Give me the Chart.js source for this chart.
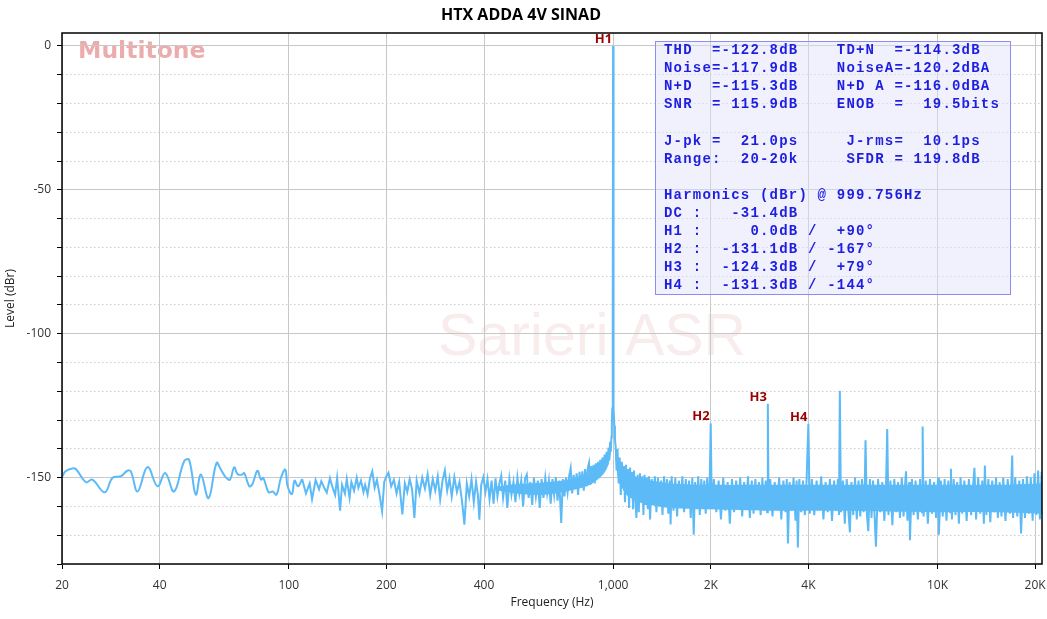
<!DOCTYPE html>
<html>
<head>
<meta charset="utf-8">
<script src="https://cdn.jsdelivr.net/npm/chart.js@4.4.1/dist/chart.umd.min.js"></script>
<style>
  html, body { margin: 0; padding: 0; background: #fff; }
  #wrap { width: 1047px; height: 619px; }
</style>
</head>
<body>
<div id="wrap"><canvas id="spectrum" width="1047" height="619"></canvas></div>
<script>
// axis ticks
const xTickValues = [20, 40, 100, 200, 400, 1000, 2000, 4000, 10000, 20000];
const xTickLabels = ['20', '40', '100', '200', '400', '1,000', '2K', '4K', '10K', '20K'];
const yTickValues = [-180, -170, -160, -150, -140, -130, -120, -110, -100, -90, -80, -70, -60, -50, -40, -30, -20, -10, 0];

// spectrum, [Hz, dBr]
const lowBand = [
  [20, -149.8], [20.5, -147.8], [21.5, -146.8], [22.1, -147.1], [23.7, -151.6], [24.8, -150.7],
  [27.1, -155.1], [28.6, -150.1], [30.4, -149.5], [31.8, -147.6], [32.6, -147.8], [34.2, -154.8],
  [36.7, -146.3], [39.4, -153.0], [41.6, -148.4], [44.3, -154.8], [47.6, -144.3], [49.3, -143.8],
  [51.7, -155.9], [53.6, -148.9], [56.6, -157.1], [59.9, -144.9], [61.8, -147.2], [64.0, -149.9],
  [65.9, -150.7], [67.9, -146.4], [69.5, -148.7], [71.7, -149.0], [72.9, -148.4], [75.6, -153.0],
  [77.3, -152.2], [80.1, -147.6], [82.1, -150.7], [83.5, -150.1], [86.7, -155.1], [89.2, -154.8],
  [91.7, -155.9], [94.6, -150.1], [97.6, -147.2], [99.2, -153.0], [102.3, -155.7], [104.2, -151.0],
  [106.8, -153.0]
];

const midBand = [
  [110, -150.5], [113, -155.5], [116, -152.0], [118, -157.5], [121, -150.8], [124, -154.0],
  [126, -151.2], [129, -153.8], [131, -155.2], [134, -150.2], [136, -152.8], [139, -156.0],
  [141, -150.0], [144, -161.5], [146, -152.5], [149, -155.5], [151, -150.5], [154, -157.0],
  [156, -151.5], [159, -154.5], [162, -150.0], [164, -153.5], [167, -151.0], [170, -155.0],
  [172, -152.5], [175, -155.8], [178, -150.2], [181, -147.8], [184, -153.5], [187, -150.8],
  [190, -155.0], [194, -161.7], [197, -151.5], [200, -149.5], [203, -148.3], [207, -153.0],
  [211, -150.8], [215, -155.5], [219, -151.5], [224, -162.8], [228, -152.0], [232, -155.0],
  [236, -150.5], [240, -154.0], [244, -164.0], [248, -151.0], [253, -155.5], [258, -150.0],
  [263, -153.8], [268, -148.8], [273, -156.0], [278, -150.5], [283, -154.5], [288, -149.5],
  [293, -157.5], [298, -151.0], [303, -147.5], [308, -154.5], [313, -150.2], [318, -156.5],
  [324, -149.8], [330, -155.0], [336, -151.5], [342, -158.0], [348, -166.3], [354, -152.0],
  [360, -156.5], [366, -150.5], [372, -158.5], [378, -151.5], [383, -156.0], [387, -164.6],
  [392, -152.5], [398, -149.8], [404, -155.0], [410, -150.5], [416, -157.5], [422, -151.0],
  [428, -159.0], [434, -150.2], [440, -156.5], [446, -152.0], [452, -149.3], [458, -157.0],
  [465, -151.0], [472, -160.5], [479, -150.5], [486, -156.0], [493, -151.5], [500, -158.5],
  [507, -150.0], [514, -155.5], [521, -151.0], [528, -160.0], [535, -150.5], [542, -149.0],
  [549, -157.0], [556, -151.5], [563, -159.5], [570, -150.0], [578, -156.5], [586, -151.0],
  [594, -160.5], [602, -150.5], [610, -157.0], [618, -150.0], [626, -155.5], [634, -151.0],
  [642, -159.0], [650, -150.5], [658, -156.0], [666, -149.8], [674, -158.0], [682, -151.0],
  [692, -165.7], [700, -150.5]
];

const carrierBand = [
  [708, -156.5], [716, -150.0], [724, -155.0], [732, -149.5], [740, -146.7], [748, -155.5],
  [756, -149.0], [764, -154.0], [772, -148.5], [780, -156.0], [788, -148.0], [796, -153.5],
  [804, -147.8], [812, -154.5], [820, -147.0], [828, -153.0], [836, -146.5], [843, -144.8],
  [850, -152.5], [857, -146.0], [864, -151.5], [871, -145.5], [878, -152.0], [885, -145.0],
  [892, -150.5], [899, -144.5], [906, -150.0], [913, -143.8], [920, -149.0], [927, -143.0],
  [934, -148.0], [941, -142.0], [948, -147.0], [955, -141.0], [962, -145.5], [968, -139.5],
  [974, -144.0], [979, -137.5], [984, -141.0], [988, -136.0], [991, -132.0], [994, -126.0],
  [996.5, -118.0], [998.5, -95.0], [999.756, 0.0], [1001, -95.0], [1003, -118.0], [1005.5, -126.0],
  [1009, -132.0], [1013, -136.5], [1018, -139.0]
];

const highBand = [
  [1025, -147.5], [1032, -140.0], [1040, -152.0], [1048, -143.0], [1056, -156.0], [1064, -144.5],
  [1072, -150.5], [1080, -146.0], [1088, -158.5], [1096, -145.5], [1104, -155.0], [1112, -147.0],
  [1120, -160.5], [1128, -146.5], [1136, -156.5], [1144, -148.0], [1152, -161.0], [1160, -147.5],
  [1170, -157.0], [1180, -164.0], [1190, -149.0], [1200, -162.0], [1210, -148.5], [1220, -158.0],
  [1230, -149.5], [1240, -163.0], [1250, -149.0], [1260, -159.5], [1270, -150.0], [1280, -161.0],
  [1290, -149.5], [1300, -164.5], [1315, -150.5], [1330, -158.5], [1345, -149.5], [1360, -162.0],
  [1375, -150.0], [1390, -159.5], [1405, -151.0], [1420, -163.0], [1435, -149.5], [1450, -160.0],
  [1465, -150.5], [1480, -162.5], [1495, -151.0], [1504, -166.3], [1515, -149.5], [1535, -161.5],
  [1555, -150.0], [1575, -163.5], [1595, -151.0], [1615, -159.0], [1635, -149.5], [1655, -162.0],
  [1675, -150.5], [1695, -160.5], [1715, -151.0], [1735, -164.0], [1755, -150.0], [1772, -169.8],
  [1790, -151.5], [1810, -161.0], [1830, -149.5], [1850, -163.0], [1870, -150.5], [1890, -160.0],
  [1910, -151.0], [1930, -162.5], [1950, -150.0], [1970, -161.0], [1985, -151.5], [1999.5, -131.1],
  [2015, -160.5], [2045, -150.5], [2080, -162.0], [2115, -151.0], [2150, -164.5], [2185, -150.0],
  [2220, -161.5], [2255, -151.5], [2290, -166.0], [2325, -150.5], [2360, -162.0], [2395, -151.0],
  [2430, -160.5], [2465, -150.0], [2500, -163.5], [2535, -151.5], [2570, -161.0], [2605, -149.5],
  [2640, -164.0], [2675, -151.0], [2710, -162.5], [2745, -150.5], [2780, -160.0], [2815, -151.5],
  [2850, -163.0], [2885, -150.0], [2920, -161.5], [2955, -151.0], [2985, -162.0], [2999.3, -124.3],
  [3015, -161.0], [3050, -150.5], [3100, -163.5], [3150, -151.5], [3200, -160.5], [3250, -150.0],
  [3300, -164.5], [3350, -151.0], [3400, -162.0], [3430, -150.5], [3460, -172.9], [3500, -151.5],
  [3550, -161.5], [3600, -150.0], [3650, -165.0], [3680, -151.0], [3712, -174.3], [3750, -150.5],
  [3800, -162.0], [3850, -151.0], [3900, -163.0], [3950, -150.5], [3999, -131.3], [4040, -162.5],
  [4100, -150.5], [4170, -163.0], [4240, -151.0], [4310, -161.0], [4380, -149.5], [4450, -164.5],
  [4520, -151.5], [4590, -162.0], [4660, -150.5], [4730, -165.0], [4800, -151.0], [4870, -161.5],
  [4930, -150.5], [4970, -163.0], [5000, -119.8], [5040, -162.0], [5110, -151.0], [5180, -166.0],
  [5250, -150.5], [5320, -162.5], [5370, -169.0], [5430, -151.5], [5500, -163.0], [5570, -150.0],
  [5640, -164.5], [5710, -151.0], [5780, -163.5], [5850, -150.5], [5920, -162.0], [5970, -151.5],
  [6000, -137.0], [6060, -163.0], [6120, -168.6], [6190, -150.5], [6260, -164.0], [6330, -151.0],
  [6460, -174.0], [6560, -150.5], [6660, -162.0], [6760, -151.5], [6860, -165.0], [6950, -150.0],
  [7000, -133.1], [7060, -163.0], [7160, -151.0], [7260, -166.5], [7360, -150.5], [7460, -162.0],
  [7560, -151.5], [7660, -164.0], [7760, -150.0], [7860, -163.5], [7960, -151.0], [8000, -147.8],
  [8080, -165.0], [8180, -151.5], [8225, -171.7], [8340, -150.5], [8440, -163.0], [8560, -151.0],
  [8700, -164.5], [8840, -150.5], [8960, -162.0], [9000, -132.2], [9060, -163.5], [9200, -151.0],
  [9340, -166.0], [9480, -150.5], [9620, -162.5], [9760, -151.5], [9900, -164.0], [10040, -150.0],
  [10100, -169.8], [10240, -151.0], [10380, -163.5], [10520, -150.5], [10660, -165.0], [10800, -151.0],
  [10940, -162.0], [11000, -146.9], [11080, -164.5], [11220, -150.5], [11360, -163.0], [11500, -151.5],
  [11640, -166.0], [11780, -150.0], [11920, -162.5], [12100, -151.0], [12300, -165.0], [12500, -150.5],
  [12700, -163.0], [12900, -151.5], [13000, -146.6], [13150, -164.5], [13350, -150.0], [13550, -162.5],
  [13750, -151.0], [13900, -166.0], [14000, -145.8], [14150, -163.0], [14350, -150.5], [14550, -165.5],
  [14750, -151.0], [14950, -162.0], [15150, -150.0], [15350, -164.0], [15550, -151.5], [15750, -163.5],
  [15950, -150.0], [16200, -165.0], [16460, -150.5], [16720, -162.5], [16900, -151.0], [17000, -142.3],
  [17100, -164.0], [17360, -150.0], [17620, -163.5], [17880, -151.0], [18100, -169.4], [18350, -150.5],
  [18610, -164.0], [18870, -149.5], [19130, -162.5], [19390, -150.0], [19650, -165.0], [19910, -148.5],
  [20170, -163.0], [20430, -147.5], [20690, -164.5], [20950, -148.0], [21100, -163.0]
];

// dense noise floor core (where the FFT bins merge into a solid band)
const coreLeftFreq = [430, 500, 600, 700, 800, 850, 900, 930, 950, 970, 983, 992];
const coreLeftHigh = [-153.2, -152.3, -151.8, -151.0, -149.5, -148.5, -146.5, -145.0, -143.5, -141.5, -138.5, -133.0];
const coreLeftLow = [-154.2, -155.5, -156.0, -155.0, -153.5, -152.5, -150.5, -149.0, -147.5, -145.0, -141.5, -136.0];
const coreRightFreq = [1008, 1015, 1030, 1060, 1100, 1200, 1300, 1500, 2000, 3000, 5000, 10000, 15000, 21000];
const coreRightHigh = [-131.0, -137.5, -142.5, -146.0, -148.0, -150.0, -151.0, -152.0, -152.5, -152.5, -152.5, -152.5, -152.5, -152.0];
const coreRightLow = [-134.0, -140.5, -149.0, -153.0, -156.0, -158.5, -159.5, -160.5, -161.0, -161.5, -161.5, -162.0, -162.0, -162.5];

// harmonic markers
const harmonicNames = ['H1', 'H2', 'H3', 'H4'];
const harmonicFreqs = [999.756, 1999.5, 2999.3, 3999];
const harmonicLevels = [0.0, -131.1, -124.3, -131.3];

// measurement box text
const statsLines = [
  'THD  =-122.8dB    TD+N  =-114.3dB',
  'Noise=-117.9dB    NoiseA=-120.2dBA',
  'N+D  =-115.3dB    N+D A =-116.0dBA',
  'SNR  = 115.9dB    ENOB  =  19.5bits',
  '',
  'J-pk =  21.0ps     J-rms=  10.1ps',
  'Range:  20-20k     SFDR = 119.8dB',
  '',
  'Harmonics (dBr) @ 999.756Hz',
  'DC :   -31.4dB',
  'H1 :     0.0dB /  +90\u00b0',
  'H2 :  -131.1dB / -167\u00b0',
  'H3 :  -124.3dB /  +79\u00b0',
  'H4 :  -131.3dB / -144\u00b0'
];

const toPoints = arr => arr.map(([f, db]) => ({ x: f, y: db }));
const zipPoints = (fs, ys) => fs.map((f, i) => ({ x: f, y: ys[i] }));
const smoothPart = toPoints(lowBand.concat([midBand[0]]));
const noisePart = toPoints(midBand.concat(carrierBand, highBand).sort((a, b) => a[0] - b[0]));

const lineColor = '#5cbaf7';

const lineSet = (data, tension) => ({
  data, borderColor: lineColor, borderWidth: 2, pointRadius: 0, tension, fill: false
});
const coreSet = (data, fill) => ({
  data, borderWidth: 0, borderColor: 'rgba(0,0,0,0)', backgroundColor: lineColor,
  pointRadius: 0, tension: 0.3, fill, order: 5
});

// watermark + "Multitone" under the grid
const backdrop = {
  id: 'backdrop',
  beforeDraw(chart) {
    const { ctx, chartArea: a } = chart;
    ctx.save();
    ctx.fillStyle = 'rgba(205, 120, 120, 0.14)';
    ctx.font = '59px "Liberation Sans", Arial, sans-serif';
    ctx.textBaseline = 'alphabetic';
    ctx.fillText('Sarieri ASR', a.left + 376, a.top + 322);
    ctx.fillStyle = 'rgba(214, 72, 72, 0.45)';
    ctx.font = 'bold 23.5px "DejaVu Sans", sans-serif';
    ctx.fillText('Multitone', a.left + 16, a.top + 25);
    ctx.restore();
  }
};

// frame, harmonic labels, stats box
const overlay = {
  id: 'overlay',
  afterDraw(chart) {
    const { ctx, chartArea: a, scales } = chart;
    ctx.save();
    ctx.strokeStyle = '#000';
    ctx.lineWidth = 1.5;
    ctx.strokeRect(a.left, a.top, a.right - a.left, a.bottom - a.top);

    ctx.fillStyle = '#990000';
    ctx.font = 'bold 13px "Open Sans", sans-serif';
    ctx.textAlign = 'right';
    ctx.textBaseline = 'alphabetic';
    harmonicNames.forEach((name, i) => {
      const x = scales.x.getPixelForValue(harmonicFreqs[i]);
      const y = scales.y.getPixelForValue(harmonicLevels[i]);
      ctx.fillText(name, x - 1, y - 3);
    });

    const bx = a.right - 387, by = a.top + 8, bw = 355, bh = 253;
    ctx.fillStyle = 'rgba(225, 225, 250, 0.45)';
    ctx.fillRect(bx, by, bw, bh);
    ctx.strokeStyle = '#8c8cf5';
    ctx.lineWidth = 1;
    ctx.strokeRect(bx + 0.5, by + 0.5, bw, bh);

    ctx.fillStyle = '#1e1ee0';
    ctx.font = 'bold 14px "Liberation Mono", monospace';
    ctx.textAlign = 'left';
    const colW = 9.6, rowH = 18.1;
    statsLines.forEach((line, r) => {
      for (let c = 0; c < line.length; c++) {
        if (line[c] !== ' ') ctx.fillText(line[c], bx + 9 + c * colW, by + 13 + r * rowH);
      }
    });
    ctx.restore();
  }
};

Chart.defaults.font.family = '"Open Sans", sans-serif';
Chart.defaults.color = '#333';

new Chart(document.getElementById('spectrum'), {
  type: 'line',
  data: {
    datasets: [
      lineSet(smoothPart, 0.4),
      lineSet(noisePart, 0),
      coreSet(zipPoints(coreLeftFreq, coreLeftHigh), '+1'),
      coreSet(zipPoints(coreLeftFreq, coreLeftLow), false),
      coreSet(zipPoints(coreRightFreq, coreRightHigh), '+1'),
      coreSet(zipPoints(coreRightFreq, coreRightLow), false)
    ]
  },
  options: {
    responsive: false,
    animation: false,
    events: [],
    layout: { padding: { left: 0, right: 5, top: 0, bottom: 0 } },
    plugins: {
      legend: { display: false },
      tooltip: { enabled: false },
      title: {
        display: true,
        text: 'HTX ADDA 4V SINAD',
        color: '#000',
        font: { size: 16, weight: 'bold' },
        padding: { top: 6, bottom: 7.8 }
      }
    },
    scales: {
      x: {
        type: 'logarithmic',
        min: 20,
        max: 21000,
        afterFit: s => { s.height = 55; s.paddingLeft = 0; s.paddingRight = 0; },
        afterBuildTicks: s => { s.ticks = xTickValues.map(v => ({ value: v })); },
        ticks: {
          autoSkip: false,
          maxRotation: 0,
          padding: 9,
          color: '#333',
          font: { size: 12 },
          callback: (v, i) => xTickLabels[i]
        },
        grid: { color: '#c8c8c8', lineWidth: 1, tickLength: 5, tickColor: '#000', tickWidth: 1 },
        border: { display: false },
        title: { display: true, text: 'Frequency (Hz)', color: '#222', font: { size: 12 }, padding: { top: 0, bottom: 9 } }
      },
      y: {
        min: -180,
        max: 4.5,
        afterFit: s => { s.width = 62; },
        afterBuildTicks: s => { s.ticks = yTickValues.map(v => ({ value: v })); },
        ticks: {
          padding: 6,
          color: '#333',
          font: { size: 12 },
          callback: v => (v % 50 === 0 ? String(v) : '')
        },
        grid: {
          color: c => (c.tick && c.tick.value % 50 === 0 ? '#c8c8c8' : '#cccccc'),
          lineWidth: 1,
          tickLength: 5,
          tickColor: '#000',
          tickWidth: 1,
          tickBorderDash: [1, 0]
        },
        border: {
          display: false,
          dash: c => (c.tick && c.tick.value % 50 !== 0 ? [1.5, 2.5] : [])
        },
        title: { display: true, text: 'Level (dBr)', color: '#222', font: { size: 12 }, padding: { top: 3, bottom: 0 } }
      }
    }
  },
  plugins: [backdrop, overlay]
});
</script>
</body>
</html>
